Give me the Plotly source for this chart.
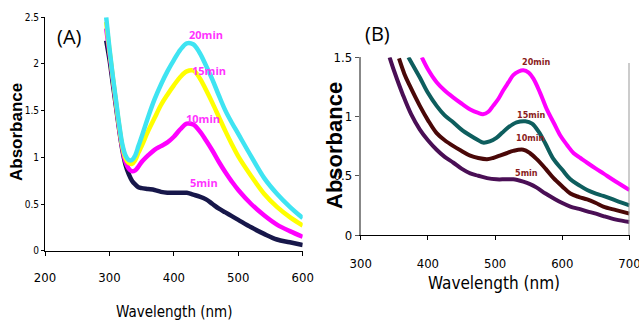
import plotly.graph_objects as go

# ---------- Panel A data ----------
wl_a = [295, 300, 305, 310, 315, 320, 325, 330, 335, 340, 345, 350, 360, 370, 380, 390,
        400, 410, 420, 430, 440, 450, 460, 470, 480, 490, 500, 520, 540, 560, 580, 600]
a_5min = [2.25, 2.05, 1.80, 1.55, 1.30, 1.08, 0.92, 0.82, 0.75, 0.71, 0.68, 0.67, 0.66, 0.65, 0.63, 0.62,
          0.62, 0.62, 0.62, 0.60, 0.58, 0.55, 0.50, 0.45, 0.41, 0.37, 0.33, 0.25, 0.18, 0.12, 0.09, 0.06]
a_10min = [2.38, 2.12, 1.85, 1.58, 1.32, 1.10, 0.95, 0.88, 0.85, 0.86, 0.90, 0.95, 1.02, 1.08, 1.12, 1.16,
           1.22, 1.30, 1.36, 1.35, 1.28, 1.18, 1.07, 0.95, 0.84, 0.74, 0.65, 0.50, 0.38, 0.28, 0.21, 0.15]
a_15min = [2.45, 2.15, 1.87, 1.60, 1.34, 1.12, 0.99, 0.94, 0.93, 0.97, 1.05, 1.12, 1.28, 1.42, 1.56, 1.67,
           1.77, 1.86, 1.92, 1.93, 1.85, 1.72, 1.58, 1.43, 1.28, 1.14, 1.01, 0.80, 0.61, 0.47, 0.36, 0.27]
a_20min = [2.50, 2.17, 1.88, 1.62, 1.36, 1.14, 1.02, 0.97, 0.97, 1.02, 1.12, 1.22, 1.43, 1.62, 1.78, 1.92,
           2.04, 2.15, 2.22, 2.21, 2.12, 1.98, 1.83, 1.66, 1.50, 1.37, 1.25, 1.01, 0.78, 0.61, 0.47, 0.35]

# ---------- Panel B data ----------
b_5min_x = [343, 350, 363, 375, 388, 400, 413, 425, 438, 450, 463, 475, 488, 502, 515, 527, 542, 552,
            562, 575, 587, 600, 612, 625, 637, 650, 661, 680, 700]
b_5min_y = [1.50, 1.38, 1.18, 1.02, 0.89, 0.80, 0.72, 0.66, 0.61, 0.56, 0.52, 0.50, 0.48, 0.47, 0.47,
            0.47, 0.45, 0.43, 0.40, 0.35, 0.31, 0.27, 0.24, 0.22, 0.20, 0.18, 0.16, 0.13, 0.11]
b_10min_x = [357, 365, 373, 388, 400, 413, 425, 438, 450, 463, 475, 488, 497, 507, 517, 527, 542, 552,
             562, 575, 587, 600, 612, 625, 637, 650, 661, 680, 700]
b_10min_y = [1.49, 1.36, 1.26, 1.09, 0.97, 0.86, 0.80, 0.75, 0.71, 0.67, 0.65, 0.64, 0.65, 0.67, 0.69,
             0.71, 0.72, 0.69, 0.64, 0.56, 0.48, 0.41, 0.35, 0.32, 0.30, 0.27, 0.24, 0.21, 0.18]
b_15min_x = [371, 380, 388, 400, 413, 425, 438, 450, 463, 475, 482, 492, 502, 510, 520, 532, 545, 555,
             565, 575, 587, 600, 612, 625, 637, 650, 661, 680, 700]
b_15min_y = [1.50, 1.41, 1.33, 1.20, 1.09, 1.01, 0.95, 0.89, 0.84, 0.80, 0.78, 0.79, 0.82, 0.86, 0.91,
             0.95, 0.96, 0.94, 0.87, 0.77, 0.64, 0.55, 0.47, 0.42, 0.38, 0.35, 0.33, 0.29, 0.25]
b_20min_x = [391, 400, 413, 425, 438, 450, 463, 475, 482, 490, 497, 505, 512, 520, 527, 535, 542, 550,
             557, 567, 577, 587, 597, 607, 617, 627, 637, 650, 661, 680, 700]
b_20min_y = [1.50, 1.40, 1.29, 1.22, 1.16, 1.11, 1.06, 1.03, 1.02, 1.04, 1.09, 1.15, 1.22, 1.29, 1.35,
             1.38, 1.39, 1.37, 1.32, 1.20, 1.06, 0.95, 0.84, 0.76, 0.69, 0.65, 0.61, 0.56, 0.52, 0.45, 0.38]

# ---------- labels ----------
series_names = ["5min", "10min", "15min", "20min"]
a_label_pos = [(447, 0.73), (445, 1.42), (455, 1.93), (450, 2.31)]
b_label_pos = [(547, 0.52), (552, 0.82), (553, 1.01), (561, 1.46)]

a_colors = ["#17174a", "#ff00ff", "#ffff00", "#3fe4f2"]
b_colors = ["#4a0f55", "#4a0808", "#0e5e5e", "#ff00ff"]

NARROW = "DejaVu Sans Condensed, Liberation Sans Narrow, Liberation Sans"

fig = go.Figure()

a_series = [a_5min, a_10min, a_15min, a_20min]
for name, ys, col in zip(series_names, a_series, a_colors):
    fig.add_trace(go.Scatter(x=wl_a, y=ys, mode="lines", name=name,
                             line=dict(color=col, width=4.5, shape="spline"),
                             xaxis="x", yaxis="y", showlegend=False))

b_series = [(b_5min_x, b_5min_y), (b_10min_x, b_10min_y), (b_15min_x, b_15min_y), (b_20min_x, b_20min_y)]
for name, (xs, ys), col in zip(series_names, b_series, b_colors):
    fig.add_trace(go.Scatter(x=xs, y=ys, mode="lines", name=name,
                             line=dict(color=col, width=4, shape="spline"),
                             xaxis="x2", yaxis="y2", showlegend=False))

annotations = []
for name, (lx, ly) in zip(series_names, a_label_pos):
    annotations.append(dict(x=lx, y=ly, xref="x", yref="y", text="<b>" + name + "</b>",
                            xanchor="center", yanchor="middle", showarrow=False,
                            font=dict(family="Open Sans, Liberation Sans", size=11, color="#ff33ff")))
for name, (lx, ly) in zip(series_names, b_label_pos):
    annotations.append(dict(x=lx, y=ly, xref="x2", yref="y2", text="<b>" + name + "</b>",
                            xanchor="center", yanchor="middle", showarrow=False,
                            font=dict(family=NARROW, size=9, color="#8b1c1c")))


def paper_text(px, py, text, size, family, angle=0):
    return dict(x=px / 639, y=1 - py / 322, xref="paper", yref="paper", text=text, showarrow=False,
                xanchor="center", yanchor="middle", textangle=angle,
                font=dict(family=family, size=size, color="black"))


annotations += [
    paper_text(69, 37, "(A)", 20, "Open Sans, Liberation Sans"),
    paper_text(377, 34, "(B)", 20, "Open Sans, Liberation Sans"),
    paper_text(16, 132, "<b>Absorbance</b>", 17, "Liberation Sans, Arial", -90),
    paper_text(174, 312, "Wavelength (nm)", 15, NARROW),
    paper_text(334, 146, "<b>Absorbance</b>", 22, "Liberation Sans, Arial", -90),
    paper_text(494, 283, "Wavelength (nm)", 17, NARROW),
]

fig.update_layout(
    template="none",
    width=639, height=322,
    margin=dict(l=0, r=0, t=0, b=0),
    paper_bgcolor="white", plot_bgcolor="white",
    annotations=annotations,
    xaxis=dict(domain=[45 / 639, 302.7 / 639], range=[200, 600], tickvals=[200, 300, 400, 500, 600],
               automargin=False, showgrid=False, zeroline=False, showline=True, linecolor="black", linewidth=1,
               ticks="outside", ticklen=4, tickcolor="black", ticklabelstandoff=11, ticklabeloverflow="allow",
               tickfont=dict(family=NARROW, size=13, color="black"), anchor="y"),
    yaxis=dict(domain=[1 - 250.7 / 322, 1 - 17.2 / 322], range=[0, 2.5], tickvals=[0, 0.5, 1, 1.5, 2, 2.5],
               automargin=False, showgrid=False, zeroline=False, showline=True, linecolor="black", linewidth=1,
               ticks="outside", ticklen=3, tickcolor="black", ticklabeloverflow="allow",
               tickfont=dict(family=NARROW, size=10, color="black"), anchor="x"),
    xaxis2=dict(domain=[360.7 / 639, 629.5 / 639], range=[300, 700], tickvals=[300, 400, 500, 600, 700],
                automargin=False, showgrid=False, zeroline=False, showline=True, linecolor="black", linewidth=1,
                ticks="outside", ticklen=4, tickcolor="black", ticklabelstandoff=12, ticklabeloverflow="allow",
                tickfont=dict(family=NARROW, size=13, color="black"), anchor="y2"),
    yaxis2=dict(domain=[1 - 235 / 322, 1 - 57.3 / 322], range=[0, 1.5], tickvals=[0, 0.5, 1, 1.5],
                automargin=False, showgrid=False, zeroline=False, showline=True, linecolor="#888888", linewidth=2,
                ticks="outside", ticklen=4, tickcolor="#555555", ticklabeloverflow="allow",
                tickfont=dict(family=NARROW, size=13, color="black"), anchor="x2"),
    shapes=[dict(type="line", xref="x2", yref="paper", x0=700, x1=700,
                 y0=1 - 235 / 322, y1=1 - 63 / 322, line=dict(color="#999999", width=2))],
)

fig.write_html("out.html", config={"displayModeBar": False},
               post_script="document.body.style.margin='0';document.body.style.overflow='hidden';")
